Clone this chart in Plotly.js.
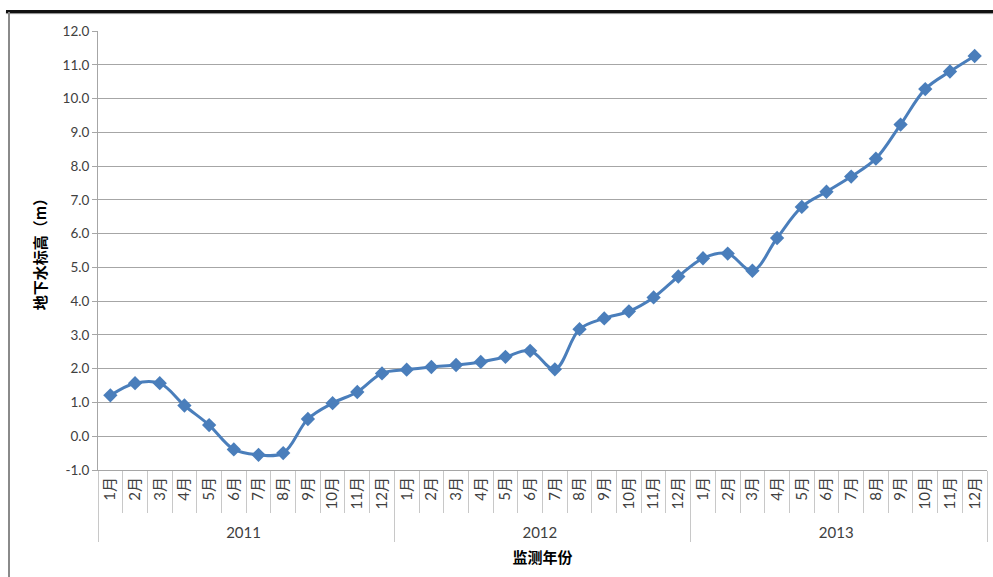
<!DOCTYPE html>
<html>
<head>
<meta charset="utf-8">
<script src="https://cdn.plot.ly/plotly-3.0.1.min.js"></script>
<style>
  html, body { margin: 0; padding: 0; background: #ffffff; }
  #wrap { position: relative; width: 993px; height: 577px; overflow: hidden; }
  #chart { position: absolute; left: 0; top: 0; width: 993px; height: 577px; }
  #frameTop { position: absolute; left: 6px; top: 10px; width: 987px; height: 0; border-top: 3px solid #111; box-shadow: 0 1px 1px #888; }
  #frameLeft { position: absolute; left: 8px; top: 12px; width: 0; height: 565px; border-left: 2px solid #8a8a8a; }
</style>
</head>
<body>
<div id="wrap">
  <div id="chart"></div>
  <div id="frameTop"></div>
  <div id="frameLeft"></div>
</div>
<script>
const years = ['2011', '2012', '2013'];
const months = ['1月','2月','3月','4月','5月','6月','7月','8月','9月','10月','11月','12月'];
const values2011 = [1.21, 1.57, 1.57, 0.91, 0.33, -0.39, -0.55, -0.50, 0.51, 0.98, 1.31, 1.86];
const values2012 = [1.97, 2.05, 2.11, 2.20, 2.35, 2.53, 1.98, 3.17, 3.49, 3.70, 4.11, 4.73];
const values2013 = [5.27, 5.41, 4.90, 5.87, 6.79, 7.24, 7.69, 8.22, 9.23, 10.28, 10.80, 11.26];
const yTicks = [-1,0,1,2,3,4,5,6,7,8,9,10,11,12];

const xOuter = [], xInner = [], yVals = [];
const series = [values2011, values2012, values2013];
years.forEach((yr, i) => {
  months.forEach((m, j) => {
    xOuter.push(yr); xInner.push(m); yVals.push(series[i][j]);
  });
});

const trace = {
  type: 'scatter',
  mode: 'lines+markers',
  x: [xOuter, xInner],
  y: yVals,
  line: { color: '#4A7EBB', width: 3, shape: 'spline', smoothing: 1 },
  marker: { symbol: 'diamond', size: 11, color: '#4A7EBB' },
  showlegend: false,
  hoverinfo: 'x+y'
};

const layout = {
  width: 993, height: 577,
  margin: { l: 98, r: 6, t: 31, b: 107 },
  paper_bgcolor: '#ffffff',
  plot_bgcolor: '#ffffff',
  font: { family: 'Lato, "Noto Sans", sans-serif', color: '#404040', size: 12 },
  xaxis: {
    type: 'multicategory',
    range: [-0.5, xOuter.length - 0.5],
    autorange: false,
    showgrid: false,
    showline: true, linecolor: '#a6a6a6', linewidth: 1,
    ticks: 'outside', tickson: 'boundaries', ticklen: 42, tickcolor: '#c8c8c8',
    tickangle: -90,
    tickfont: { size: 15, color: '#404040', family: 'Lato, "Noto Sans CJK SC", sans-serif' },
    showdividers: true, dividercolor: '#c8c8c8', dividerwidth: 1,
    title: { text: '监测年份', font: { family: '"Noto Sans CJK SC", sans-serif', size: 15, color: '#000', weight: 'bold' }, standoff: 12 }
  },
  yaxis: {
    range: [-1, 12],
    autorange: false,
    tickvals: yTicks,
    ticktext: yTicks.map(v => v.toFixed(1)),
    showgrid: true, gridcolor: '#a6a6a6', gridwidth: 1,
    zeroline: false,
    showline: true, linecolor: '#a6a6a6', linewidth: 1,
    ticks: 'outside', ticklen: 5, tickcolor: '#a6a6a6',
    tickfont: { size: 13.5, color: '#404040' },
    title: { text: '地下水标高（m）', font: { family: '"Noto Sans CJK SC", sans-serif', size: 15, color: '#000', weight: 'bold' }, standoff: 12 }
  }
};

Plotly.newPlot('chart', [trace], layout, { displayModeBar: false, staticPlot: true });
</script>
</body>
</html>
